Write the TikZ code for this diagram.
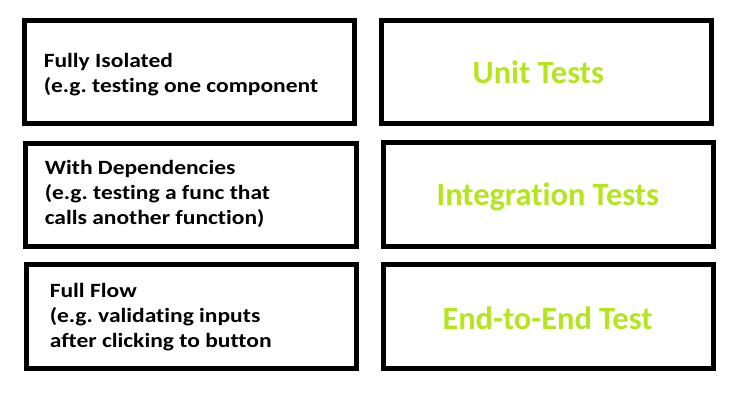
\documentclass[tikz,border=0pt]{standalone}
\usepackage{fontspec}
\setmainfont[Ligatures=NoCommon]{Carlito}
\newfontfamily\descfont[Ligatures=NoCommon,FakeStretch=1.16]{Carlito}
\definecolor{lime}{RGB}{181,230,29}
\frenchspacing
\begin{document}
\begin{tikzpicture}[x=0.75pt,y=-0.75pt,
  box/.style={draw=black,line width=3.75pt,minimum width=247.9pt,minimum height=77.6pt,inner sep=0pt},
  desc/.style={anchor=base west,align=left,inner sep=0pt,font=\descfont\bfseries\fontsize{15.2pt}{18.75pt}\selectfont},
  kind/.style={anchor=base,inner sep=0pt,text=lime,font=\bfseries\fontsize{24.3pt}{28pt}\selectfont}]
\useasboundingbox (0,0) rectangle (742,402);
% left column: scope descriptions
\node[box] (b1) at (189.5,72) {};
\node[box] (b3) at (191.2,194.8) {};
\node[box] (b5) at (191.5,316.7) {};
% right column: test kinds
\node[box] (b2) at (546.7,72) {};
\node[box] (b4) at (548.3,194.7) {};
\node[box] (b6) at (548.3,316.7) {};
% descriptions (anchored at the baseline of their last line)
\node[desc] (t1) at (43.5,93) {Fully Isolated\\(e.g. testing one component};
\node[desc] (t3) at (44.5,224.3) {With Dependencies\\(e.g. testing a func that\\calls another function)};
\node[desc] (t5) at (49.5,348) {Full Flow\\(e.g. validating inputs\\after clicking to button};
\node[kind] (k1) at (538.3,83.3) {Unit Tests};
\node[kind] (k2) at (547.8,206) {Integration Tests};
\node[kind] (k3) at (547.5,329.3) {End-to-End Test};
\end{tikzpicture}
\end{document}
